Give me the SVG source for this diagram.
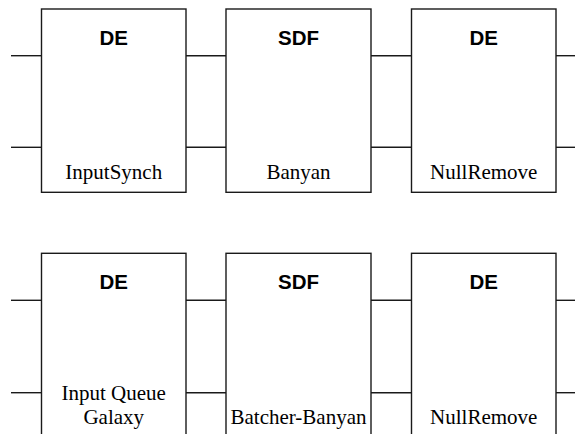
<svg xmlns="http://www.w3.org/2000/svg" width="575" height="434" viewBox="0 0 575 434">
  <style>
    .box { fill: #ffffff; stroke: #1a1a1a; stroke-width: 1.4; }
    .wire { stroke: #1a1a1a; stroke-width: 1.4; fill: none; }
    .dom { font-family: "Liberation Sans", Arial, sans-serif; font-weight: bold; font-size: 20.5px; text-anchor: middle; fill: #000; }
    .name { font-family: "Liberation Serif", "Times New Roman", Times, serif; font-size: 21px; text-anchor: middle; fill: #000; }
  </style>
  <rect width="575" height="434" fill="#ffffff"/>

  <g id="connectors">
    <!-- top row -->
    <line class="wire" x1="11" y1="55.7" x2="41.5" y2="55.7"/>
    <line class="wire" x1="11" y1="147.3" x2="41.5" y2="147.3"/>
    <line class="wire" x1="186" y1="55.7" x2="226" y2="55.7"/>
    <line class="wire" x1="186" y1="147.3" x2="226" y2="147.3"/>
    <line class="wire" x1="371" y1="55.7" x2="411.5" y2="55.7"/>
    <line class="wire" x1="371" y1="147.3" x2="411.5" y2="147.3"/>
    <line class="wire" x1="556" y1="55.7" x2="575" y2="55.7"/>
    <line class="wire" x1="556" y1="147.3" x2="575" y2="147.3"/>
    <!-- bottom row -->
    <line class="wire" x1="11" y1="300.3" x2="41.5" y2="300.3"/>
    <line class="wire" x1="11" y1="392.7" x2="41.5" y2="392.7"/>
    <line class="wire" x1="186" y1="300.3" x2="226" y2="300.3"/>
    <line class="wire" x1="186" y1="392.7" x2="226" y2="392.7"/>
    <line class="wire" x1="371" y1="300.3" x2="411.5" y2="300.3"/>
    <line class="wire" x1="371" y1="392.7" x2="411.5" y2="392.7"/>
    <line class="wire" x1="556" y1="300.3" x2="575" y2="300.3"/>
    <line class="wire" x1="556" y1="392.7" x2="575" y2="392.7"/>
  </g>

  <g id="inputsynch">
    <rect class="box" x="41.5" y="9" width="144.5" height="183.3"/>
    <text class="dom" x="113.75" y="45">DE</text>
    <text class="name" x="113.75" y="179.3">InputSynch</text>
  </g>
  <g id="banyan">
    <rect class="box" x="226" y="9" width="145" height="183.3"/>
    <text class="dom" x="298.5" y="45">SDF</text>
    <text class="name" x="298.5" y="179.3">Banyan</text>
  </g>
  <g id="nullremove-top">
    <rect class="box" x="411.5" y="9" width="144.5" height="183.3"/>
    <text class="dom" x="483.75" y="45">DE</text>
    <text class="name" x="483.75" y="179.3">NullRemove</text>
  </g>

  <g id="inputqueue-galaxy">
    <rect class="box" x="41.5" y="253.3" width="144.5" height="200"/>
    <text class="dom" x="113.75" y="289.3">DE</text>
    <text class="name" x="113.75" y="400">Input Queue</text>
    <text class="name" x="113.75" y="423.5">Galaxy</text>
  </g>
  <g id="batcher-banyan">
    <rect class="box" x="226" y="253.3" width="145" height="200"/>
    <text class="dom" x="298.5" y="289.3">SDF</text>
    <text class="name" x="298.5" y="423.5">Batcher-Banyan</text>
  </g>
  <g id="nullremove-bottom">
    <rect class="box" x="411.5" y="253.3" width="144.5" height="200"/>
    <text class="dom" x="483.75" y="289.3">DE</text>
    <text class="name" x="483.75" y="423.5">NullRemove</text>
  </g>
</svg>
